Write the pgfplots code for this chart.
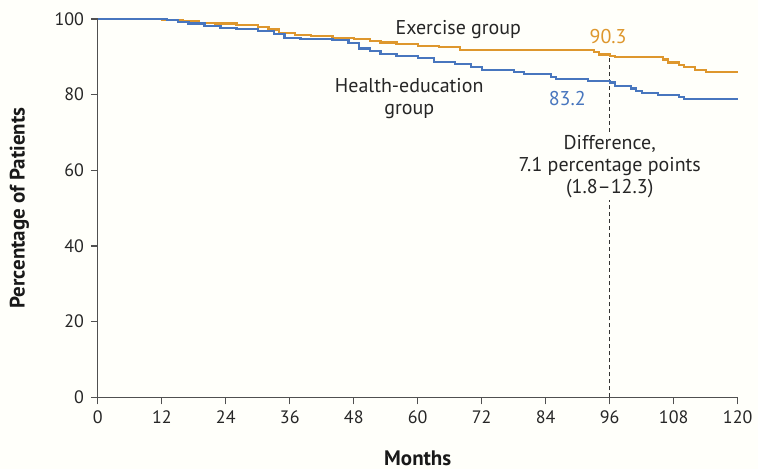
\documentclass[border=0pt]{standalone}
\usepackage{pgfplots}
\pgfplotsset{compat=1.18}
\usepackage{fontspec}
\setmainfont{PT Sans}
\definecolor{exor}{RGB}{222,151,45}
\definecolor{hblue}{RGB}{72,118,190}
\definecolor{axgray}{RGB}{80,80,80}
\definecolor{bgc}{RGB}{255,255,250}
\pgfplotstableread{
x y
0 100
12 99.8
16 99.5
19 99.0
22 98.8
26 98.3
30 97.8
32 97.2
34 96.3
37 95.8
40 95.5
44 95.0
48 94.8
51 94.2
53 93.8
56 93.3
60 92.8
64 92.5
68 91.8
93 91.2
94 90.6
96 90.3
97 89.9
106 89.3
107 88.5
109 87.8
110 87.2
112 86.6
114 85.9
120 85.9
}\exercise
\pgfplotstableread{
x y
0 100
13 99.8
15 99.3
17 98.8
20 98.2
23 97.7
26 97.3
30 96.8
33 96.0
35 95.0
38 94.7
44 94.4
47 93.6
49 92.2
51 91.6
53 90.8
56 90.3
60 89.6
63 88.6
67 88.2
70 87.4
72 86.5
78 86.0
80 85.5
85 84.6
86 84.1
92 83.5
96 83.2
97 82.3
100 81.6
101 81.0
102 80.4
105 80.0
109 79.3
110 78.8
120 78.8
}\health
\begin{document}
\fontsize{20bp}{22bp}\selectfont
\begin{tikzpicture}
\fill[bgc] (-98bp,-72bp) rectangle (661bp,398bp);
\begin{axis}[
  name=ax,
  at={(0,0)}, anchor=south west,
  scale only axis,
  width=641bp, height=379bp,
  xmin=0, xmax=120, ymin=0, ymax=100,
  axis lines*=left,
  axis line style={axgray, line width=1.3pt},
  xtick={0,12,...,120}, ytick={0,20,...,100},
  tick align=outside,
  major tick length=7bp,
  tick style={axgray, line width=1.1pt},
  ticklabel style={font=\fontsize{18bp}{20bp}\selectfont, text=black!85},
  /pgf/number format/assume math mode=true,
  xlabel={\textbf{Months}},
  ylabel={\textbf{Percentage of Patients}},
  label style={font=\fontsize{21bp}{23bp}\selectfont, text=black!90},
  xlabel style={at={(axis description cs:0.5,0)}, anchor=north, yshift=-47bp},
  ylabel style={at={(axis description cs:0,0.5)}, anchor=south, yshift=62bp},
  clip=false,
]
\draw[black!80, dashed, line width=0.9pt, dash pattern=on 4bp off 3bp] (axis cs:96,0) -- (axis cs:96,89.9);
\addplot[const plot, color=exor, line width=2.2pt] table {\exercise};
\addplot[const plot, color=hblue, line width=2.2pt] table {\health};
\node[fill=bgc, align=center, text=black!85, inner sep=2bp] at (axis cs:96,61.0) {Difference,\\7.1 percentage points\\(1.8--12.3)};
\node[text=black!85] at (axis cs:67.6,97.3) {Exercise group};
\node[align=center, text=black!85] at (axis cs:58.4,78.9) {Health-education\\group};
\node[text=exor] at (axis cs:95.7,95.4) {90.3};
\node[text=hblue, anchor=east] at (axis cs:92.8,78.9) {83.2};
\end{axis}
\path (-98bp,-72bp) rectangle (661bp,398bp);
\end{tikzpicture}
\end{document}
